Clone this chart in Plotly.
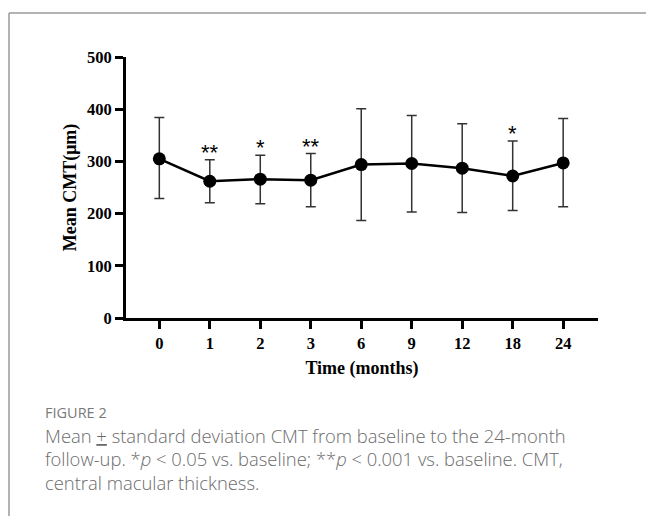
import plotly.graph_objects as go

# ---- data ----
months = ["0", "1", "2", "3", "6", "9", "12", "18", "24"]
mean_cmt = [305, 262, 266, 264, 294, 296, 287, 272, 297]
err_upper = [79, 41, 46, 51, 107, 92, 85, 67, 85]
err_lower = [76, 41, 47, 51, 107, 93, 85, 66, 84]
sig_marks = ["", "**", "*", "**", "", "", "", "*", ""]

y_ticks = [0, 100, 200, 300, 400, 500]

W, H = 646, 516
L, R, T, B = 126, 598, 57, 318  # plot area pixel bounds

def px(x):
    return (x - L) / (R - L)

def py(y):
    return (B - y) / (B - T)

fig = go.Figure()
fig.add_trace(go.Scatter(
    x=months, y=mean_cmt, mode="lines+markers",
    line=dict(color="black", width=2.5),
    marker=dict(color="black", size=13),
    error_y=dict(type="data", symmetric=False, array=err_upper, arrayminus=err_lower,
                 color="#333333", thickness=1.5, width=5),
    showlegend=False, cliponaxis=False,
))

for i, (v, u, s) in enumerate(zip(mean_cmt, err_upper, sig_marks)):
    if s:
        fig.add_annotation(x=i, y=v + u, text=s, showarrow=False, yanchor="bottom",
                           yshift=-7, font=dict(family="Liberation Sans", size=22, color="black"))

axis_font = dict(family="Liberation Serif", size=16.5, color="black", weight="bold")
fig.update_xaxes(
    type="category", range=[-0.66, 8.69], showline=True, linecolor="black", linewidth=3,
    ticks="outside", ticklen=8, tickwidth=3, tickcolor="black", tickfont=axis_font,
    showgrid=False, zeroline=False,
    title=dict(text="Time (months)", font=dict(family="Liberation Serif", size=18, color="black", weight="bold"), standoff=10),
)
fig.update_yaxes(
    range=[0, 500], tickvals=y_ticks, showline=True, linecolor="black", linewidth=3,
    ticks="outside", ticklen=8, tickwidth=3, tickcolor="black", tickfont=axis_font,
    showgrid=False, zeroline=False,
    title=dict(text="Mean CMT(μm)", font=dict(family="Liberation Serif", size=18, color="black", weight="bold"), standoff=6),
)

# frame lines
fig.add_shape(type="line", xref="paper", yref="paper", x0=px(9), x1=px(646), y0=py(13), y1=py(13),
              line=dict(color="#9a9a9a", width=1.5))
fig.add_shape(type="line", xref="paper", yref="paper", x0=px(9), x1=px(9), y0=py(13), y1=py(516),
              line=dict(color="#9a9a9a", width=1.5))

cap_font = dict(family="Open Sans", size=18.4, color="#6b6b6b", weight=300)
fig.add_annotation(xref="paper", yref="paper", x=px(43), y=py(412), xanchor="left", yanchor="middle",
                   text="FIGURE 2", showarrow=False,
                   font=dict(family="Open Sans", size=14.5, color="#7a7a7a", weight=500))
captions = [
    "Mean <u>+</u> standard deviation CMT from baseline to the 24-month",
    "follow-up. *<i>p</i> < 0.05 vs. baseline; **<i>p</i> < 0.001 vs. baseline. CMT,",
    "central macular thickness.",
]
for i, c in enumerate(captions):
    fig.add_annotation(xref="paper", yref="paper", x=px(43), y=py(435 + 23.5 * i), xanchor="left",
                       yanchor="middle", text=c, showarrow=False, font=cap_font, align="left")

fig.update_layout(
    width=W, height=H, margin=dict(l=L, r=W - R, t=T, b=H - B, autoexpand=False),
    plot_bgcolor="white", paper_bgcolor="white",
)
fig.write_html("out.html")
